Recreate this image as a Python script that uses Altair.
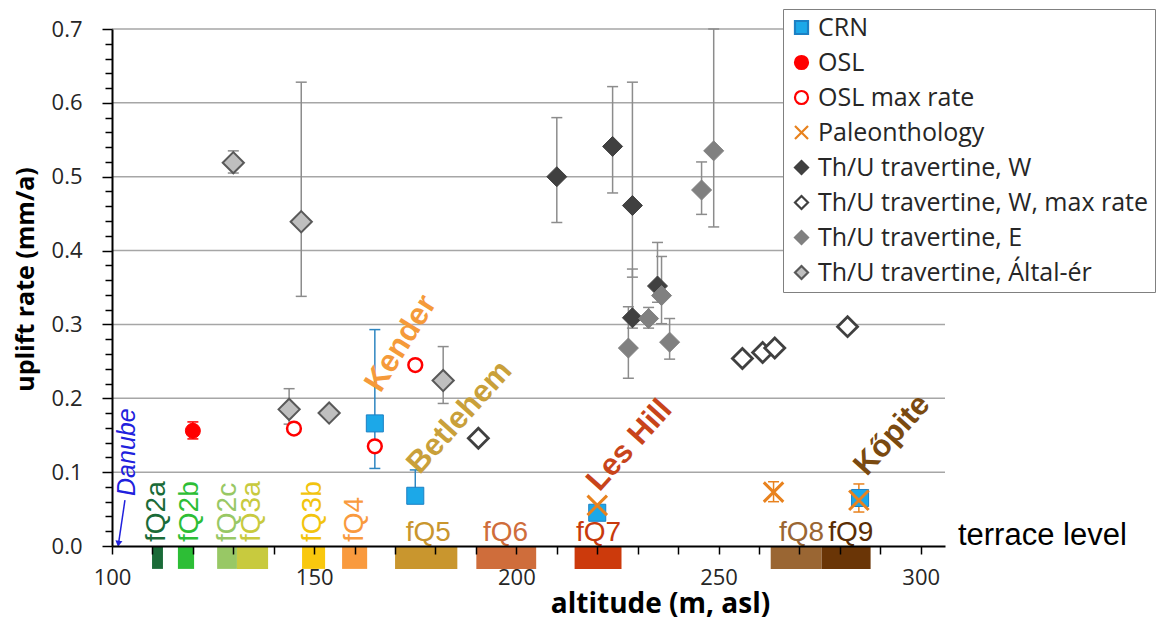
import altair as alt
import pandas as pd

# ------------------------------------------------------------------ data
SERIES = ["CRN", "OSL", "OSL max rate", "Paleonthology",
          "Th/U travertine, W", "Th/U travertine, W, max rate",
          "Th/U travertine, E", "Th/U travertine, Által-ér"]

CRN_ALT = [165, 175, 220, 285]
CRN_RATE = [0.166, 0.068, 0.045, 0.065]
CRN_LO = [0.105, 0.060, None, None]
CRN_HI = [0.293, 0.103, None, None]

OSL_ALT = [120]
OSL_RATE = [0.156]
OSL_LO = [0.145]
OSL_HI = [0.168]

OSLMAX_ALT = [145, 165, 175]
OSLMAX_RATE = [0.159, 0.135, 0.245]

PAL_ALT = [220, 263.6, 284.7]
PAL_RATE = [0.055, 0.073, 0.062]
PAL_LO = [None, 0.060, 0.046]
PAL_HI = [None, 0.087, 0.084]

W_ALT = [210, 223.8, 228.7, 234.9, 228.7]
W_RATE = [0.500, 0.541, 0.461, 0.352, 0.309]
W_LO = [0.438, 0.478, 0.364, 0.330, 0.295]
W_HI = [0.580, 0.622, 0.628, 0.411, 0.375]

WMAX_ALT = [190.6, 255.9, 260.9, 263.9, 281.9]
WMAX_RATE = [0.146, 0.254, 0.262, 0.268, 0.297]

E_ALT = [227.7, 232.7, 235.9, 237.9, 245.8, 248.8]
E_RATE = [0.268, 0.308, 0.339, 0.276, 0.482, 0.535]
E_LO = [0.227, 0.295, 0.301, 0.253, 0.449, 0.432]
E_HI = [0.324, 0.323, 0.392, 0.308, 0.520, 0.700]

AE_ALT = [130, 146.8, 143.8, 153.7, 181.9]
AE_RATE = [0.519, 0.439, 0.185, 0.180, 0.224]
AE_LO = [0.505, 0.338, 0.165, None, 0.193]
AE_HI = [0.535, 0.628, 0.213, None, 0.270]

TERR_NAMES = ["fQ2a", "fQ2b", "fQ2c", "fQ3a", "fQ3b", "fQ4",
              "fQ5", "fQ6", "fQ7", "fQ8", "fQ9"]
TERR_START = [109.9, 116.3, 126.0, 130.9, 147.0, 156.9, 170.0, 190.1, 214.4, 262.9, 275.5]
TERR_END = [112.6, 120.3, 130.9, 138.6, 152.7, 163.1, 185.4, 204.9, 226.0, 275.5, 287.6]
TERR_LABEL_ALT = [111.1, 119.3, 128.7, 134.7, 149.8, 160.1, 178.2, 197.3, 220.3, 270.5, 282.7]
TERR_VERTICAL = [True, True, True, True, True, True, False, False, False, False, False]
TERR_BAR_DEPTH = -0.031

SITE_NAMES = ["Kender", "Betlehem", "Les Hill", "Kőpite"]
SITE_ALT = [171.5, 186.0, 228.0, 293.0]
SITE_RATE = [0.274, 0.174, 0.136, 0.150]

GRID_Y = [0.1, 0.2, 0.3, 0.4, 0.5, 0.6, 0.7]
X_TICKS = list(range(100, 301, 10))
Y_TICKS = [round(i * 0.02, 2) for i in range(36)]

DANUBE_TEXT_POS = (103.7, 0.127)
DANUBE_ARROW = (103.2, 0.062, 101.6, 0.003)
TERRACE_LEVEL_POS = (309.2, 0.001)

# ------------------------------------------------------------------ styles
TERR_COLORS = ["#1A6B38", "#2DBE36", "#98C865", "#C8CA3E", "#F9C80E", "#F99A3E",
               "#C9962E", "#CF6D3B", "#CC3A0C", "#9A6633", "#6A3506"]
TERR_TEXT_COLORS = ["#1A6B38", "#2DBE36", "#98C865", "#C8CA3E", "#F2C40E", "#F99A3E",
                    "#C9962E", "#CF6D3B", "#C83A0C", "#9A6633", "#5A2D04"]
SITE_COLORS = ["#F59A3A", "#C9A03A", "#C8441A", "#7A4A10"]
SITE_ANGLES = [302, 312, 312, 312]

X_PATH = "M-1,-1L1,1M-1,1L1,-1"
SHAPES = ["square", "circle", "circle", X_PATH, "diamond", "diamond", "diamond", "diamond"]
FILLS = ["#1CA8E8", "#FF0000", "#FFFFFF", "transparent", "#404040", "#FFFFFF", "#808080", "#BFBFBF"]
STROKES = ["#1C80C4", "#FF0000", "#FF0000", "#E8821E", "#404040", "#404040", "#808080", "#595959"]
SIZES = [290, 225, 190, 380, 400, 400, 400, 450]
STROKE_WIDTHS = [1, 1, 2.5, 3, 1, 2.8, 1, 2]
ERR_COLORS = ["#2E86C1", "#FF0000", "#FF0000", "#E8821E", "#8C8C8C", "#8C8C8C", "#8C8C8C", "#8C8C8C"]

# ------------------------------------------------------------------ tables
SERIES_DATA = {
    "CRN": (CRN_ALT, CRN_RATE),
    "OSL": (OSL_ALT, OSL_RATE),
    "OSL max rate": (OSLMAX_ALT, OSLMAX_RATE),
    "Paleonthology": (PAL_ALT, PAL_RATE),
    "Th/U travertine, W": (W_ALT, W_RATE),
    "Th/U travertine, W, max rate": (WMAX_ALT, WMAX_RATE),
    "Th/U travertine, E": (E_ALT, E_RATE),
    "Th/U travertine, Által-ér": (AE_ALT, AE_RATE),
}
DRAW_ORDER = ["CRN", "OSL", "OSL max rate", "Th/U travertine, W",
              "Th/U travertine, W, max rate", "Th/U travertine, E",
              "Th/U travertine, Által-ér", "Paleonthology"]

err_rows = []
for s, a_, lo_, hi_ in [
    ("Th/U travertine, W", W_ALT, W_LO, W_HI),
    ("Th/U travertine, E", E_ALT, E_LO, E_HI),
    ("Th/U travertine, Által-ér", AE_ALT, AE_LO, AE_HI),
    ("CRN", CRN_ALT, CRN_LO, CRN_HI),
    ("OSL", OSL_ALT, OSL_LO, OSL_HI),
    ("Paleonthology", PAL_ALT, PAL_LO, PAL_HI),
]:
    for a, lo, hi in zip(a_, lo_, hi_):
        if lo is None or hi is None:
            continue
        err_rows.append({"series": s, "alt": a, "lo": lo, "hi": hi})
errs = pd.DataFrame(err_rows)
caps = pd.concat([
    errs[["series", "alt"]].assign(rate=errs["lo"]),
    errs[["series", "alt"]].assign(rate=errs["hi"]),
], ignore_index=True)

terr = pd.DataFrame({"name": TERR_NAMES, "start": TERR_START, "end": TERR_END})
terr["top"] = 0.0
terr["bottom"] = TERR_BAR_DEPTH

# ------------------------------------------------------------------ scales / axes
xscale = alt.Scale(domain=[100, 306], nice=False, zero=False)
yscale = alt.Scale(domain=[0, 0.7], nice=False, zero=False)

x_axis = alt.Axis(
    title="altitude (m, asl)", values=X_TICKS, format="d",
    labelExpr="datum.value % 50 == 0 ? datum.label : ''",
    grid=False, zindex=1, tickSize=8, tickWidth=1.5, tickColor="black",
    domainColor="black", domainWidth=2,
    labelFont="Open Sans", labelFontSize=22, labelColor="#262626",
    labelPadding=13, labelFlush=False, labelOverlap=False,
    titleFont="Open Sans", titleFontSize=28, titleFontWeight="bold", titleColor="black",
    titleX=548, titleY=66, titleAlign="center", titleBaseline="alphabetic",
)
y_axis = alt.Axis(
    title="uplift rate (mm/a)", values=Y_TICKS,
    labelExpr="(round(datum.value*100) % 10 == 0) ? format(datum.value, '.1f') : ''",
    grid=False, zindex=1,
    tickSize={"condition": {"test": "round(datum.value*100) % 10 == 0", "value": 10}, "value": 7},
    tickWidth=1.5, tickColor="black",
    domainColor="black", domainWidth=2,
    labelFont="Open Sans", labelFontSize=22, labelColor="#262626",
    labelPadding=20, labelOverlap=False,
    titleFont="Open Sans", titleFontSize=25, titleFontWeight="bold", titleColor="black",
    titleAngle=270, titleX=-79, titleY=250, titleAlign="center", titleBaseline="alphabetic",
)


def X(f):
    return alt.X(f, type="quantitative", scale=xscale, axis=x_axis)


def Y(f):
    return alt.Y(f, type="quantitative", scale=yscale, axis=y_axis)


# ------------------------------------------------------------------ layers
grid = alt.Chart(pd.DataFrame({"rate": GRID_Y})).mark_rule(
    color="#A6A6A6", strokeWidth=1.5).encode(y=Y("rate"))

bars = alt.Chart(terr).mark_rect().encode(
    x=X("start"), x2="end", y=Y("top"), y2="bottom",
    color=alt.Color("name:N", scale=alt.Scale(domain=TERR_NAMES, range=TERR_COLORS), legend=None),
)

err_color = alt.Color("series:N", scale=alt.Scale(domain=SERIES, range=ERR_COLORS), legend=None)
err_rules = alt.Chart(errs).mark_rule(strokeWidth=1.5).encode(
    x=X("alt"), y=Y("lo"), y2="hi", color=err_color)
err_caps = alt.Chart(caps).mark_tick(orient="horizontal", size=11, thickness=1.5, opacity=1).encode(
    x=X("alt"), y=Y("rate"), color=err_color)

layers = [grid, bars, err_rules, err_caps]

# one layer of points per series, each with its own symbol style
for s in DRAW_ORDER:
    i = SERIES.index(s)
    a_, r_ = SERIES_DATA[s]
    d = pd.DataFrame({"alt": a_, "rate": r_})
    layers.append(alt.Chart(d).mark_point(
        shape=SHAPES[i], filled=True, fill=FILLS[i], stroke=STROKES[i],
        size=SIZES[i], strokeWidth=STROKE_WIDTHS[i], opacity=1,
    ).encode(x=X("alt"), y=Y("rate")))

# legend-only layer: rows without positions are not drawn, the legend comes from the scales
legend_df = pd.DataFrame({"series": SERIES, "alt": [None] * len(SERIES), "rate": [None] * len(SERIES)})
leg = alt.Legend(title=None, orient="none", legendX=671, legendY=-20,
                 fillColor="white", strokeColor="#808080", padding=6,
                 labelFont="Open Sans", labelFontSize=25, labelColor="#262626", labelLimit=500,
                 symbolSize=170, symbolStrokeWidth=2.2, symbolOpacity=1,
                 rowPadding=9, labelOffset=4)
legend_layer = alt.Chart(legend_df).mark_point(opacity=1, filled=True).encode(
    x=X("alt"), y=Y("rate"),
    shape=alt.Shape("series:N", scale=alt.Scale(domain=SERIES, range=SHAPES), legend=leg),
    fill=alt.Fill("series:N", scale=alt.Scale(domain=SERIES, range=FILLS), legend=leg),
    stroke=alt.Stroke("series:N", scale=alt.Scale(domain=SERIES, range=STROKES), legend=leg),
)
layers.append(legend_layer)

for i, name in enumerate(TERR_NAMES):
    d = pd.DataFrame({"alt": [TERR_LABEL_ALT[i]], "rate": [0.0055 if TERR_VERTICAL[i] else 0.007], "t": [name]})
    if TERR_VERTICAL[i]:
        mk = alt.Chart(d).mark_text(angle=270, align="left", baseline="middle",
                                    font="Liberation Sans", fontSize=28, color=TERR_TEXT_COLORS[i])
    else:
        mk = alt.Chart(d).mark_text(align="center", baseline="alphabetic",
                                    font="Liberation Sans", fontSize=28, color=TERR_TEXT_COLORS[i])
    layers.append(mk.encode(x=X("alt"), y=Y("rate"), text="t:N"))

for i, name in enumerate(SITE_NAMES):
    d = pd.DataFrame({"alt": [SITE_ALT[i]], "rate": [SITE_RATE[i]], "t": [name]})
    layers.append(alt.Chart(d).mark_text(
        angle=SITE_ANGLES[i], align="center", baseline="middle",
        font="Liberation Sans", fontSize=31, fontWeight="bold", color=SITE_COLORS[i],
    ).encode(x=X("alt"), y=Y("rate"), text="t:N"))

danube = alt.Chart(pd.DataFrame({"alt": [DANUBE_TEXT_POS[0]], "rate": [DANUBE_TEXT_POS[1]], "t": ["Danube"]})).mark_text(
    angle=270, align="center", baseline="middle", font="Liberation Sans", fontSize=25,
    fontStyle="italic", color="#2020DD").encode(x=X("alt"), y=Y("rate"), text="t:N")
arrow_df = pd.DataFrame({"alt": [DANUBE_ARROW[0]], "rate": [DANUBE_ARROW[1]],
                         "alt2": [DANUBE_ARROW[2]], "rate2": [DANUBE_ARROW[3]]})
arrow_line = alt.Chart(arrow_df).mark_rule(color="#2020DD", strokeWidth=1.5).encode(
    x=X("alt"), y=Y("rate"), x2="alt2", y2="rate2")
arrow_head = alt.Chart(arrow_df).mark_point(shape="triangle-down", filled=True, size=50,
                                            color="#2020DD", opacity=1, angle=9).encode(
    x=X("alt2"), y=Y("rate2"))

terrace_level = alt.Chart(pd.DataFrame({"alt": [TERRACE_LEVEL_POS[0]], "rate": [TERRACE_LEVEL_POS[1]],
                                        "t": ["terrace level"]})).mark_text(
    align="left", baseline="alphabetic", font="Liberation Sans", fontSize=31, color="black"
).encode(x=X("alt"), y=Y("rate"), text="t:N")

layers += [danube, arrow_line, arrow_head, terrace_level]

chart = alt.layer(*layers).resolve_scale(color="independent").properties(
    width=833, height=517,
    padding={"left": 112, "top": 29, "right": 212, "bottom": 75},
    autosize=alt.AutoSizeParams(type="none"),
    background="white",
).configure_view(stroke=None)

chart.save("out.html", embed_options={"renderer": "svg", "actions": False})
